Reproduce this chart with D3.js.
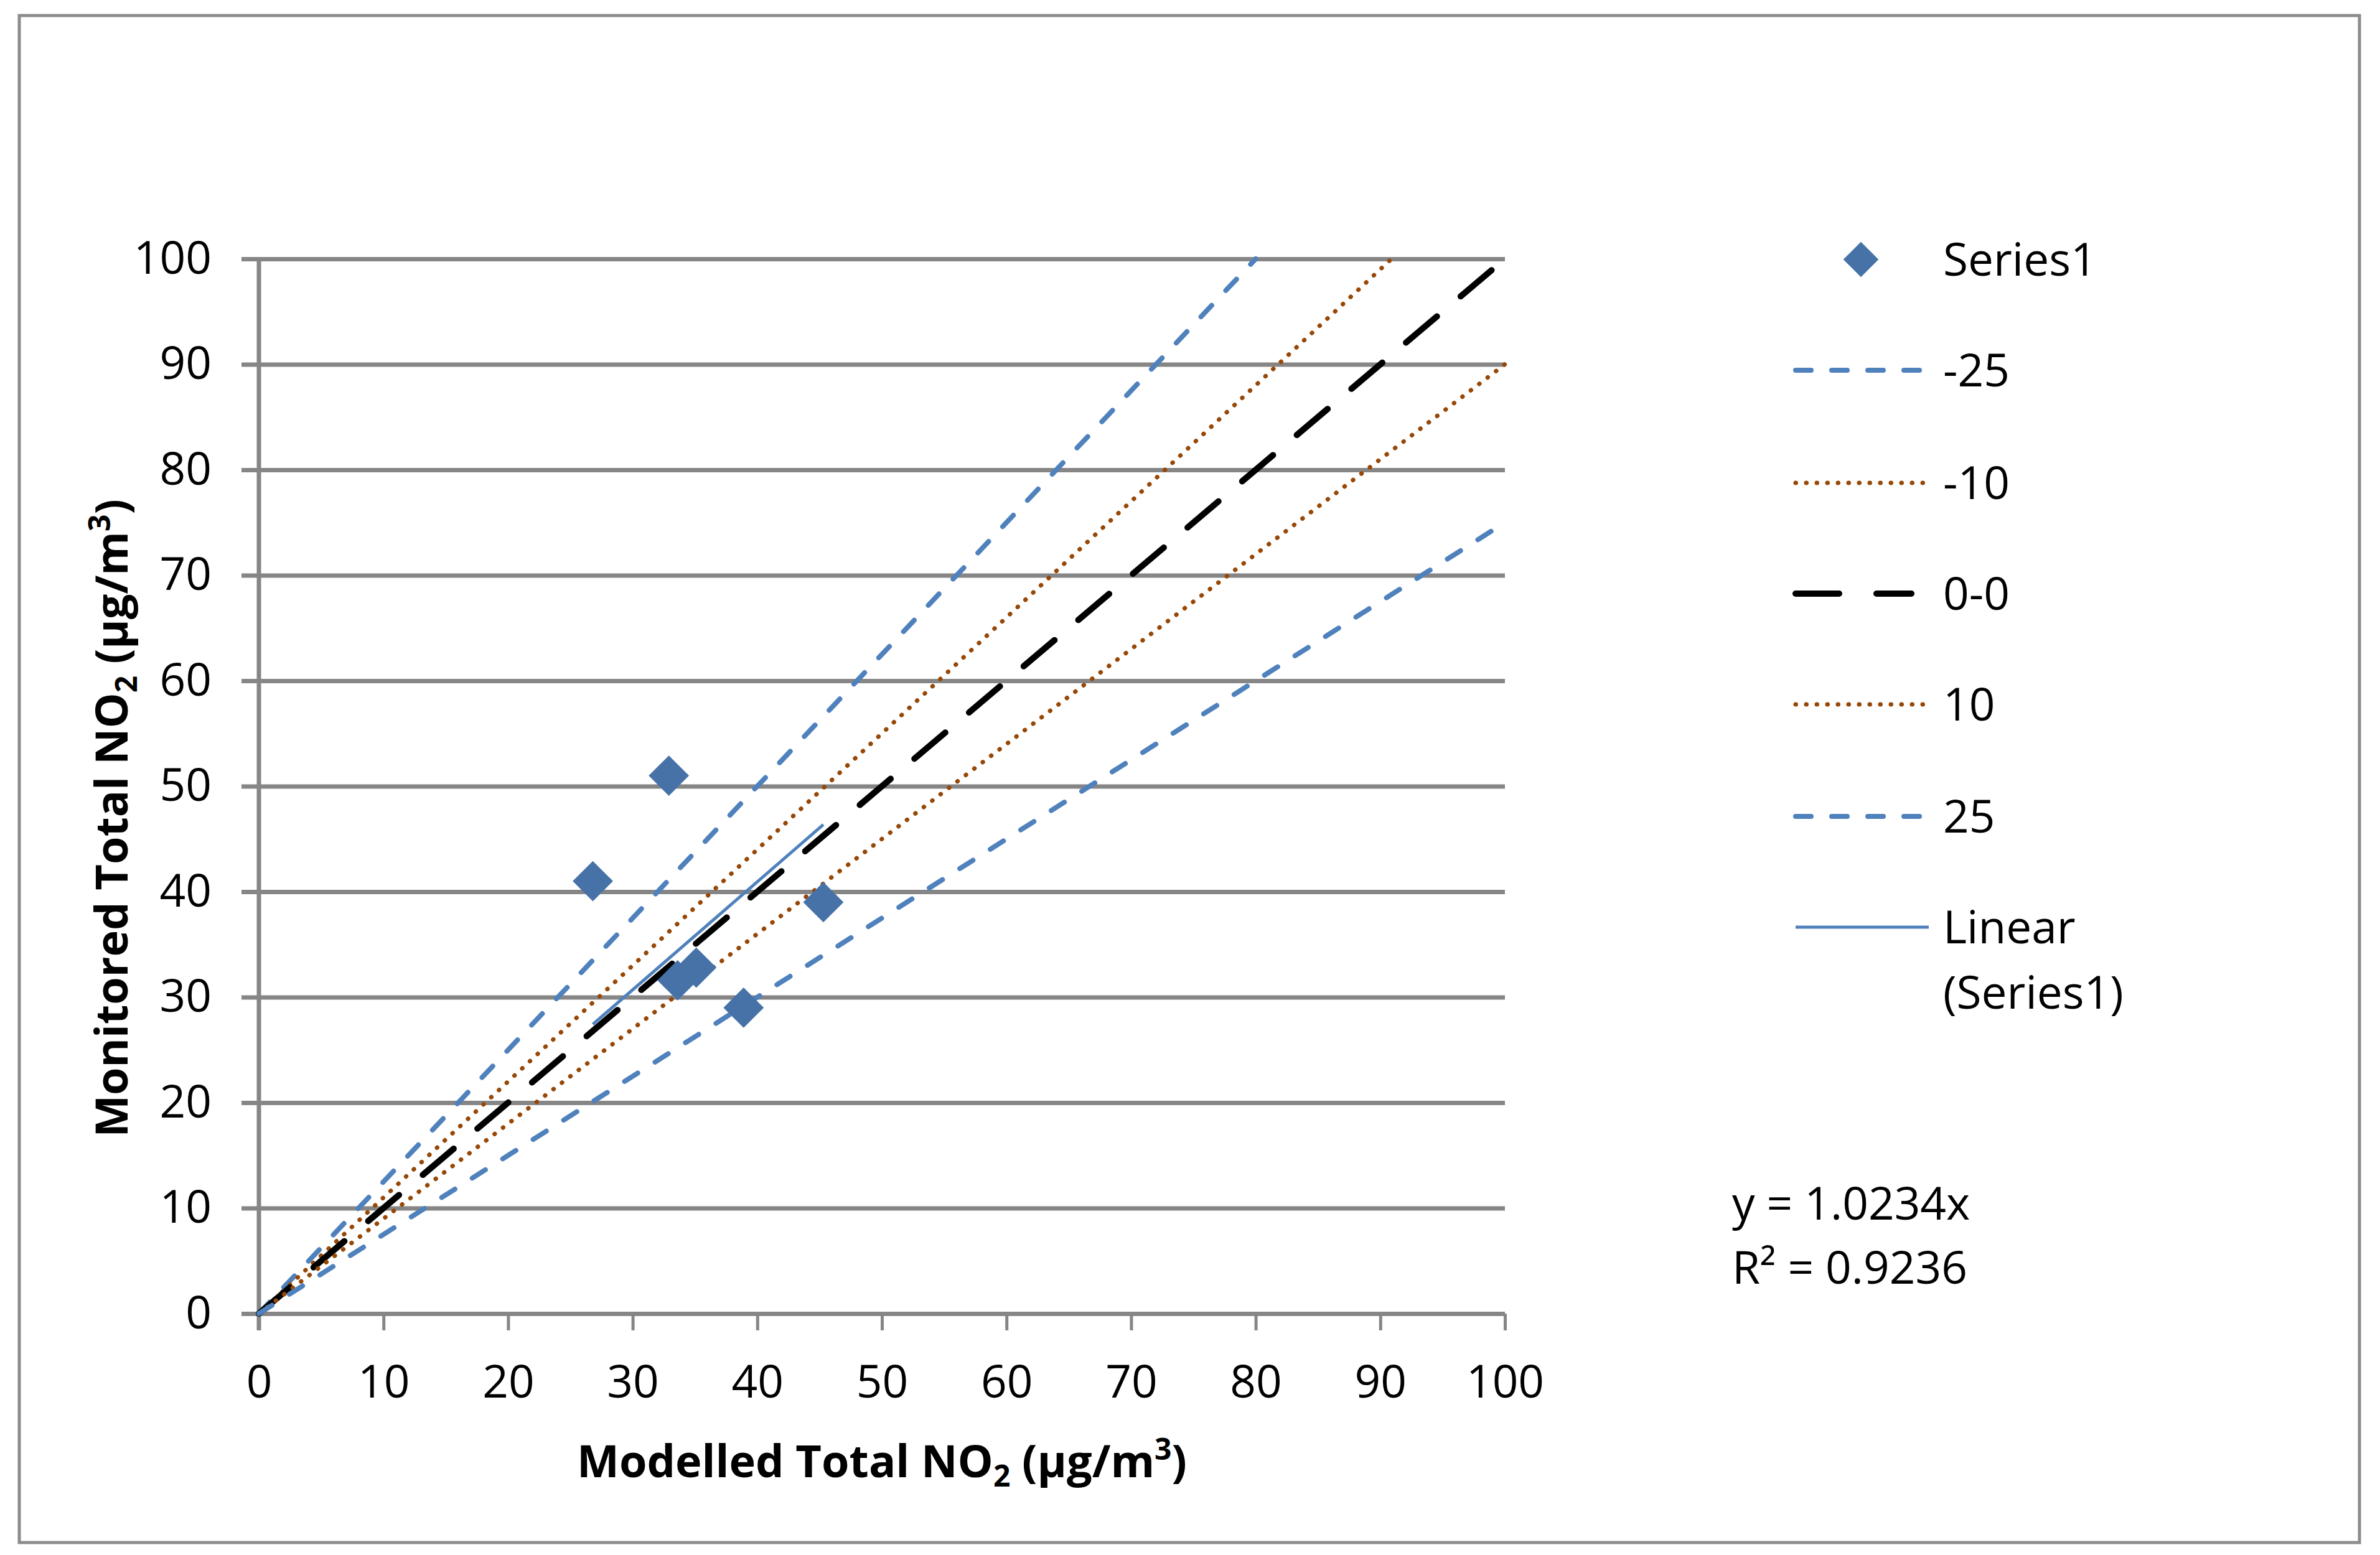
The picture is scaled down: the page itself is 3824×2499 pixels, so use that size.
<!DOCTYPE html>
<html>
<head>
<meta charset="utf-8">
<script src="https://cdn.jsdelivr.net/npm/d3@7"></script>
<style>
  body { margin: 0; background: #fff; }
  text { font-family: "Open Sans", "Liberation Sans", sans-serif; fill: #000; }
</style>
</head>
<body>
<script>
// Series1 points (modelled vs monitored)
const modelled = [26.8, 32.9, 45.3, 35.1, 33.6, 38.9];
const monitored = [41.0, 51.0, 39.0, 32.8, 31.6, 29.0];

// reference lines through the origin
const refNames = ["-25", "-10", "0-0", "10", "25"];
const refEndX = [80, 90.9, 100, 100, 100];
const refEndY = [100, 100, 100, 90, 75];

// linear trendline
const trendSlope = 1.0234;
const trendLabels = ["y = 1.0234x", "R² = 0.9236"];

const legendNames = ["Series1", "-25", "-10", "0-0", "10", "25", "Linear", "(Series1)"];

const W = 3824, H = 2499;
const plot = { left: 416, right: 2418, top: 416, bottom: 2111 };

const svg = d3.select("body").append("svg")
    .attr("width", W)
    .attr("height", H);

// outer frame
svg.append("rect")
    .attr("x", 31).attr("y", 25)
    .attr("width", 3760).attr("height", 2454)
    .attr("fill", "#fff")
    .attr("stroke", "#8c8c8c")
    .attr("stroke-width", 5);

const x = d3.scaleLinear().domain([0, 100]).range([plot.left, plot.right]);
const y = d3.scaleLinear().domain([0, 100]).range([plot.bottom, plot.top]);

const grid = "#868686";

// horizontal gridlines + y axis
const yAxis = svg.append("g")
    .attr("transform", "translate(" + plot.left + ",0)")
    .call(d3.axisLeft(y).tickValues(d3.range(0, 101, 10))
        .tickSize(-(plot.right - plot.left)).tickPadding(76).tickFormat(d3.format("d")));
yAxis.select(".domain").remove();
yAxis.selectAll(".tick line")
    .attr("x1", -28)
    .attr("stroke", grid)
    .attr("stroke-width", 7);
yAxis.selectAll(".tick text")
    .attr("font-size", 73)
    .attr("font-family", "'Open Sans', sans-serif");

// y axis line
svg.append("line")
    .attr("x1", plot.left).attr("x2", plot.left)
    .attr("y1", plot.top).attr("y2", plot.bottom + 27)
    .attr("stroke", grid).attr("stroke-width", 7);

// x axis ticks
const xAxis = svg.append("g")
    .attr("transform", "translate(0," + plot.bottom + ")")
    .call(d3.axisBottom(x).tickValues(d3.range(0, 101, 10))
        .tickSize(27).tickPadding(56).tickFormat(d3.format("d")));
xAxis.select(".domain").remove();
xAxis.selectAll(".tick line")
    .attr("stroke", grid)
    .attr("stroke-width", 5);
xAxis.selectAll(".tick text")
    .attr("font-size", 73)
    .attr("font-family", "'Open Sans', sans-serif");

// reference lines
const blue = "#4f81bd", brown = "#974706";
const refStyle = [
  { stroke: blue, width: 8, dash: "25,33" },
  { stroke: brown, width: 7, dash: "0.5,16.5" },
  { stroke: "#000", width: 10, dash: "65,50" },
  { stroke: brown, width: 7, dash: "0.5,16.5" },
  { stroke: blue, width: 8, dash: "25,33" }
];

const refData = refNames.map((n, i) => ({ name: n, x2: refEndX[i], y2: refEndY[i], s: refStyle[i] }));

svg.append("g").selectAll("line")
  .data(refData)
  .enter().append("line")
    .attr("x1", x(0)).attr("y1", y(0))
    .attr("x2", d => x(d.x2)).attr("y2", d => y(d.y2))
    .attr("stroke", d => d.s.stroke)
    .attr("stroke-width", d => d.s.width)
    .attr("stroke-dasharray", d => d.s.dash)
    .attr("stroke-linecap", "round");

// trendline over the data range
const xMin = d3.min(modelled), xMax = d3.max(modelled);
svg.append("line")
    .attr("x1", x(xMin)).attr("y1", y(trendSlope * xMin))
    .attr("x2", x(xMax)).attr("y2", y(trendSlope * xMax))
    .attr("stroke", blue)
    .attr("stroke-width", 5);

// points
const diamond = d3.symbol().type(d3.symbolSquare).size(2100);
svg.append("g").selectAll("path")
  .data(modelled.map((m, i) => [m, monitored[i]]))
  .enter().append("path")
    .attr("d", diamond)
    .attr("transform", d => "translate(" + x(d[0]) + "," + y(d[1]) + ") rotate(45)")
    .attr("fill", "#4672a8");

// axis titles
const xt = svg.append("text")
    .attr("x", (plot.left + plot.right) / 2)
    .attr("y", 2374)
    .attr("text-anchor", "middle")
    .attr("font-size", 72)
    .attr("font-weight", "bold");
xt.append("tspan").text("Modelled Total NO");
xt.append("tspan").attr("font-size", 48).attr("dy", 15).text("2");
xt.append("tspan").attr("dy", -15).text(" (µg/m");
xt.append("tspan").attr("font-size", 48).attr("dy", -28).text("3");
xt.append("tspan").attr("dy", 28).text(")");

const yt = svg.append("text")
    .attr("transform", "translate(205,1315) rotate(-90)")
    .attr("text-anchor", "middle")
    .attr("font-size", 72)
    .attr("font-weight", "bold");
yt.append("tspan").text("Monitored Total NO");
yt.append("tspan").attr("font-size", 48).attr("dy", 15).text("2");
yt.append("tspan").attr("dy", -15).text(" (µg/m");
yt.append("tspan").attr("font-size", 48).attr("dy", -28).text("3");
yt.append("tspan").attr("dy", 28).text(")");

// legend
const legRows = [417, 595, 776, 954, 1132, 1312, 1490, 1595];
const legX0 = 2885, legX1 = 3091, legText = 3122;
const legend = svg.append("g");

legend.append("path")
    .attr("d", d3.symbol().type(d3.symbolSquare).size(1600))
    .attr("transform", "translate(2990," + legRows[0] + ") rotate(45)")
    .attr("fill", "#4672a8");

refStyle.forEach((s, i) => {
  legend.append("line")
      .attr("x1", legX0).attr("x2", legX1 - (i === 2 ? 20 : 0))
      .attr("y1", legRows[i + 1]).attr("y2", legRows[i + 1])
      .attr("stroke", s.stroke)
      .attr("stroke-width", s.width)
      .attr("stroke-dasharray", i === 2 ? "70,60" : s.dash)
      .attr("stroke-linecap", "round");
});
legend.append("line")
    .attr("x1", legX0).attr("x2", legX1 + 8)
    .attr("y1", legRows[6]).attr("y2", legRows[6])
    .attr("stroke", blue).attr("stroke-width", 5);

legend.selectAll("text")
  .data(legendNames)
  .enter().append("text")
    .attr("x", legText)
    .attr("y", (d, i) => legRows[i])
    .attr("dy", "0.35em")
    .attr("font-size", 73)
    .text(d => d);

// trendline equation
svg.selectAll(".eq")
  .data(trendLabels)
  .enter().append("text")
    .attr("class", "eq")
    .attr("x", 2783)
    .attr("y", (d, i) => 1934 + i * 103)
    .attr("dy", "0.35em")
    .attr("font-size", 73)
    .text(d => d);
</script>
</body>
</html>
